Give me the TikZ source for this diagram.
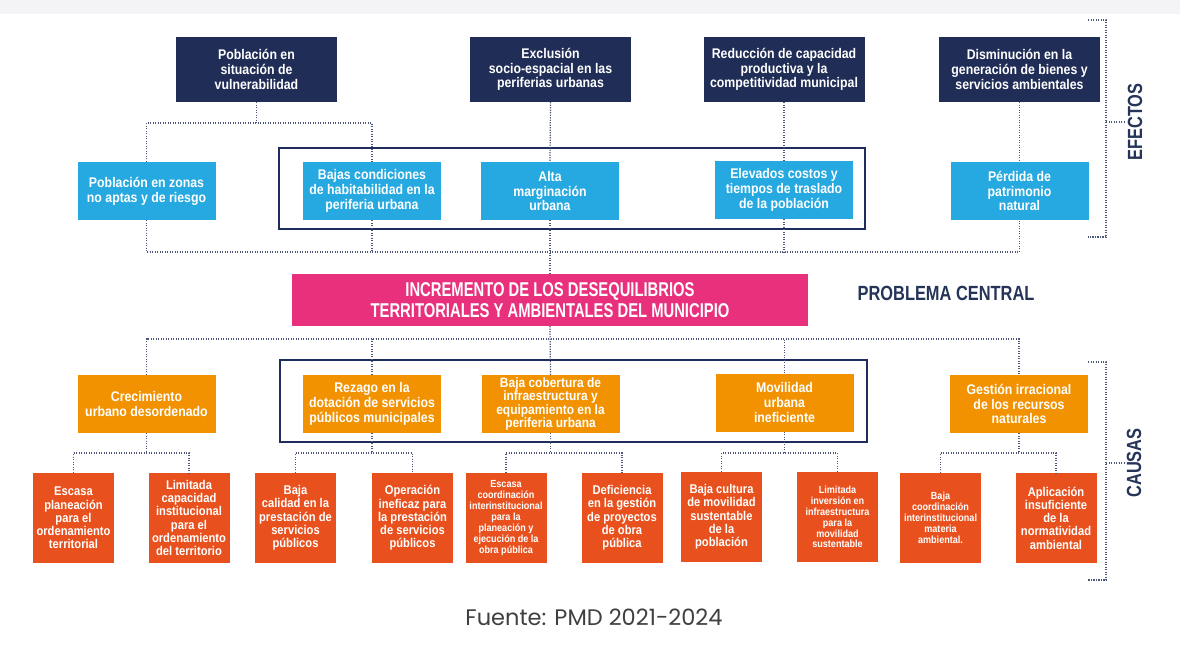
\documentclass[tikz,border=0pt]{standalone}
\usepackage{fontspec}
\newfontfamily\boxfont[FakeStretch=0.88]{Liberation Sans}
\newfontfamily\centfont[FakeStretch=0.74]{Liberation Sans}
\newfontfamily\headfont[FakeStretch=0.8]{Liberation Sans}
\newfontfamily\srcfont{Poppins}
\definecolor{navy}{RGB}{32,45,86}
\definecolor{navyf}{RGB}{30,44,94}
\definecolor{lblue}{RGB}{38,169,224}
\definecolor{pinkc}{RGB}{232,48,125}
\definecolor{orng}{RGB}{242,146,0}
\definecolor{rorg}{RGB}{232,81,30}
\definecolor{dotc}{RGB}{76,86,120}
\definecolor{headc}{RGB}{37,52,88}
\definecolor{topgrey}{RGB}{244,244,246}
\definecolor{srcc}{RGB}{64,64,64}
\tikzset{
  base/.style={inner sep=0pt, align=center, text=white, font=\boxfont\bfseries\fontsize{14}{14.7}\selectfont},
  navybox/.style={base, fill=navy, minimum width=161pt, minimum height=65pt},
  bluebox/.style={base, fill=lblue, minimum width=138pt, minimum height=58pt},
  orbox/.style={base, fill=orng, minimum width=138pt, minimum height=58pt},
  tightor/.style={orbox, font=\boxfont\bfseries\fontsize{13.6}{13.3}\selectfont},
  redbox/.style={base, fill=rorg, minimum width=81pt, minimum height=90pt, font=\boxfont\bfseries\fontsize{12.7}{13.3}\selectfont},
  smallred/.style={redbox, font=\boxfont\bfseries\fontsize{10.3}{10.9}\selectfont},
  centbox/.style={base, fill=pinkc, minimum width=516pt, minimum height=52pt, font=\centfont\bfseries\fontsize{20}{20.5}\selectfont},
  headtxt/.style={inner sep=2pt, text=headc, font=\headfont\bfseries\fontsize{20.5}{21}\selectfont},
  dl/.style={draw=dotc, line width=1.2pt, dash pattern=on 1.2pt off 1.3pt},
  framebox/.style={draw=navyf, line width=2.5pt}
}
\begin{document}
\begin{tikzpicture}[x=1pt,y=-1pt]
\useasboundingbox (0,0) rectangle (1180,654);
\fill[white] (0,0) rectangle (1180,654);
\fill[topgrey] (0,0) rectangle (1180,14);

% frames
\draw[framebox] (279,148) rectangle (865,229);
\draw[framebox] (280,360) rectangle (867,442);

% effects
\node[navybox] (e1) at (256.5,69.5) {Población en\\situación de\\vulnerabilidad};
\node[navybox] (e2) at (550.5,69.5) {Exclusión\\socio-espacial en las\\periferias urbanas};
\node[navybox] (e3) at (784,69.5) {Reducción de capacidad\\productiva y la\\competitividad municipal};
\node[navybox] (e4) at (1019.5,69.5) {Disminución en la\\generación de bienes y\\servicios ambientales};

\node[bluebox] (l1) at (146.5,191) {Población en zonas\\no aptas y de riesgo};
\node[bluebox] (l2) at (372,191) {Bajas condiciones\\de habitabilidad en la\\periferia urbana};
\node[bluebox] (l3) at (550,191) {Alta\\marginación\\urbana};
\node[bluebox] (l4) at (784,190) {Elevados costos y\\tiempos de traslado\\de la población};
\node[bluebox] (l5) at (1019.5,191) {Pérdida de\\patrimonio\\natural};

% central problem
\node[centbox] (c) at (550,300) {INCREMENTO DE LOS DESEQUILIBRIOS\\TERRITORIALES Y AMBIENTALES DEL MUNICIPIO};
\node[headtxt] (pc) at (946,293) {PROBLEMA CENTRAL};

% causes
\node[orbox] (o1) at (146.5,404) {Crecimiento\\urbano desordenado};
\node[orbox] (o2) at (372,404) {Rezago en la\\dotación de servicios\\públicos municipales};
\node[tightor] (o3) at (550.5,404) {Baja cobertura de\\infraestructura y\\equipamiento en la\\periferia urbana};
\node[orbox] (o4) at (784.5,402.5) {Movilidad\\urbana\\ineficiente};
\node[orbox] (o5) at (1019,404) {Gestión irracional\\de los recursos\\naturales};

\node[redbox] (b1) at (73.5,518) {Escasa\\planeación\\para el\\ordenamiento\\territorial};
\node[redbox] (b2) at (189,518) {Limitada\\capacidad\\institucional\\para el\\ordenamiento\\del territorio};
\node[redbox] (b3) at (295.5,518) {Baja\\calidad en la\\prestación de\\servicios\\públicos};
\node[redbox] (b4) at (412.5,518) {Operación\\ineficaz para\\la prestación\\de servicios\\públicos};
\node[smallred] (b5) at (506,518) {Escasa\\coordinación\\interinstitucional\\para la\\planeación y\\ejecución de la\\obra pública};
\node[redbox] (b6) at (622,518) {Deficiencia\\en la gestión\\de proyectos\\de obra\\pública};
\node[redbox] (b7) at (721.5,517) {Baja cultura\\de movilidad\\sustentable\\de la\\población};
\node[smallred] (b8) at (837.5,517) {Limitada\\inversión en\\infraestructura\\para la\\movilidad\\sustentable};
\node[smallred] (b9) at (940.5,518) {Baja\\coordinación\\interinstitucional\\materia\\ambiental.};
\node[redbox] (b10) at (1056,518) {Aplicación\\insuficiente\\de la\\normatividad\\ambiental};

% side labels
\node[headtxt, rotate=90] (efx) at (1135,122) {EFECTOS};
\node[headtxt, rotate=90] (cax) at (1134,463) {CAUSAS};

\node[inner sep=0pt, text=srcc, font=\srcfont\fontsize{22.5}{23}\selectfont] (src) at (594,617) {Fuente: PMD 2021-2024};

% junction levels
\coordinate (yA) at (0,123);
\coordinate (yB) at (0,252);
\coordinate (yC) at (0,339);
\coordinate (yD) at (0,453);

% effect connectors
\draw[dl] (e1.south) -- (e1.south |- yA);
\draw[dl] (l1.north) |- (l2.north |- yA) -- (l2.north);
\draw[dl] (e2.south) -- (l3.north);
\draw[dl] (e3.south) -- (l4.north);
\draw[dl] (e4.south) -- (l5.north);
\draw[dl] (l1.south) |- (l5.south |- yB) -- (l5.south);
\draw[dl] (l2.south) -- (l2.south |- yB);
\draw[dl] (l3.south) -- (c.north);
\draw[dl] (l4.south) -- (l4.south |- yB);

% cause connectors
\draw[dl] (c.south) -- (o3.north);
\draw[dl] (o1.north) |- (o5.north |- yC) -- (o5.north);
\draw[dl] (o2.north) -- (o2.north |- yC);
\draw[dl] (o4.north) -- (o4.north |- yC);

\draw[dl] (o1.south) -- (o1.south |- yD);
\draw[dl] (b1.north) |- (b2.north |- yD) -- (b2.north);
\draw[dl] (o2.south) -- (o2.south |- yD);
\draw[dl] (b3.north) |- (b4.north |- yD) -- (b4.north);
\draw[dl] (o3.south) -- (o3.south |- yD);
\draw[dl] (b5.north) |- (b6.north |- yD) -- (b6.north);
\draw[dl] (o4.south) -- (o4.south |- yD);
\draw[dl] (b7.north) |- (b8.north |- yD) -- (b8.north);
\draw[dl] (o5.south) -- (o5.south |- yD);
\draw[dl] (b9.north) |- (b10.north |- yD) -- (b10.north);

% side brackets
\coordinate (ef1) at (1088,20);
\coordinate (ef2) at (1106,20);
\coordinate (ef3) at (1106,237);
\coordinate (ef4) at (1088,237);
\draw[dl] (ef1) -- (ef2) -- (ef3) -- (ef4);
\draw[dl] (efx.north -| ef2) -- (efx.north);
\coordinate (ca1) at (1088,362);
\coordinate (ca2) at (1106,362);
\coordinate (ca3) at (1106,580);
\coordinate (ca4) at (1088,580);
\draw[dl] (ca1) -- (ca2) -- (ca3) -- (ca4);
\draw[dl] (cax.north -| ca2) -- (cax.north);
\end{tikzpicture}
\end{document}
